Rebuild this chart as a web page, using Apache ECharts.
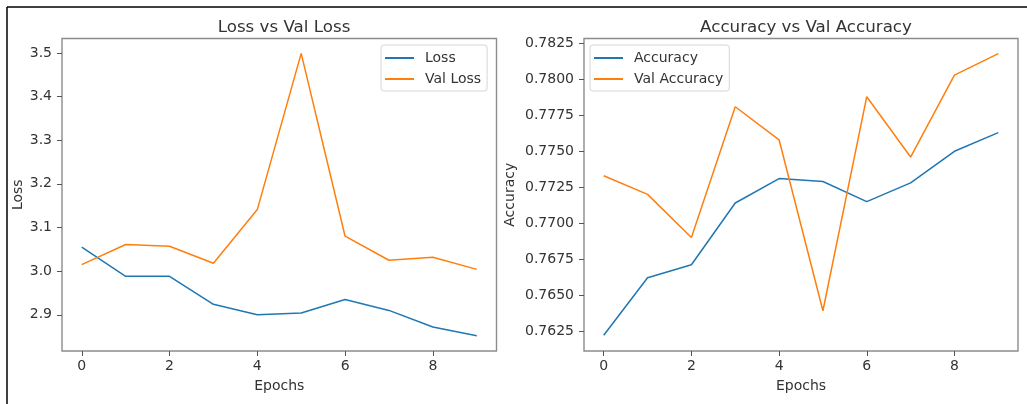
<!DOCTYPE html>
<html>
<head>
<meta charset="utf-8">
<script src="https://cdn.jsdelivr.net/npm/echarts@6/dist/echarts.min.js"></script>
<style>
  html, body { margin: 0; padding: 0; background: #fff; }
  #chart { width: 1027px; height: 404px; }
</style>
</head>
<body>
<div id="chart"></div>
<script>
const epochs = [0, 1, 2, 3, 4, 5, 6, 7, 8, 9];
const loss = [3.055, 2.988, 2.988, 2.924, 2.900, 2.904, 2.935, 2.910, 2.872, 2.852];
const valLoss = [3.015, 3.061, 3.057, 3.018, 3.141, 3.499, 3.080, 3.025, 3.032, 3.004];
const accuracy = [0.7622, 0.7662, 0.7671, 0.7714, 0.7731, 0.7729, 0.7715, 0.7728, 0.7750, 0.7763];
const valAccuracy = [0.7733, 0.7720, 0.7690, 0.7781, 0.7758, 0.7639, 0.7788, 0.7746, 0.7803, 0.7818];
const xTicks = [0, 2, 4, 6, 8];
const lossTicks = [2.9, 3.0, 3.1, 3.2, 3.3, 3.4, 3.5];
const accTicks = [0.7625, 0.7650, 0.7675, 0.7700, 0.7725, 0.7750, 0.7775, 0.7800, 0.7825];

const FONT = 'DejaVu Sans';
const TXT = '#333';
const FRAME = '#8c8c8c';
const BLUE = '#1f77b4';
const ORANGE = '#ff7f0e';

const zip = (xs, ys) => xs.map((x, i) => [x, ys[i]]);

function xAxisCfg(gridIndex) {
  return {
    type: 'value', gridIndex, min: -0.45, max: 9.45,
    name: 'Epochs', nameLocation: 'middle', nameGap: 28,
    nameTextStyle: { fontFamily: FONT, fontSize: 14, color: TXT },
    axisLine: { show: false, onZero: false },
    axisTick: { show: true, length: 5, lineStyle: { color: '#555', width: 1 }, customValues: xTicks },
    axisLabel: { fontFamily: FONT, fontSize: 14, color: TXT, margin: 8, customValues: xTicks, formatter: v => String(Math.round(v)) },
    splitLine: { show: false }
  };
}
function yAxisCfg(gridIndex, name, min, max, ticks, dec, gap) {
  return {
    type: 'value', gridIndex, min, max,
    name, nameLocation: 'middle', nameRotate: 90, nameGap: gap,
    nameTextStyle: { fontFamily: FONT, fontSize: 14, color: TXT },
    axisLine: { show: false, onZero: false },
    axisTick: { show: true, length: 5, lineStyle: { color: '#555', width: 1 }, customValues: ticks },
    axisLabel: { fontFamily: FONT, fontSize: 14, color: TXT, margin: 10, customValues: ticks, formatter: v => v.toFixed(dec) },
    splitLine: { show: false }
  };
}
function legendCfg(left, names) {
  return {
    orient: 'vertical', left, top: 45,
    data: names,
    icon: 'rect', itemWidth: 29, itemHeight: 2, itemGap: 7,
    padding: [6, 6, 5, 4],
    borderColor: '#d6d6d6', borderWidth: 1, borderRadius: 3,
    backgroundColor: 'rgba(255,255,255,0.8)',
    textStyle: { fontFamily: FONT, fontSize: 14, color: TXT, lineHeight: 14, padding: [0, 0, 0, 6] }
  };
}
function lineSeries(name, xi, yi, data, color) {
  return {
    type: 'line', name, xAxisIndex: xi, yAxisIndex: yi,
    data: zip(epochs, data), showSymbol: false, symbol: 'none',
    color, lineStyle: { color, width: 1.5 }, animation: false
  };
}

const chart = echarts.init(document.getElementById('chart'), null, { renderer: 'canvas' });
chart.setOption({
  backgroundColor: '#fff',
  animation: false,
  title: [
    { text: 'Loss vs Val Loss', left: 279, top: 13, textAlign: 'center',
      textStyle: { fontFamily: FONT, fontSize: 16.7, fontWeight: 'normal', color: TXT, lineHeight: 20 } },
    { text: 'Accuracy vs Val Accuracy', left: 801, top: 13, textAlign: 'center',
      textStyle: { fontFamily: FONT, fontSize: 16.7, fontWeight: 'normal', color: TXT, lineHeight: 20 } }
  ],
  grid: [
    { left: 62, top: 38.5, width: 434.5, height: 312.5, show: true, borderColor: FRAME, borderWidth: 1.4, backgroundColor: 'transparent' },
    { left: 584, top: 38.5, width: 434, height: 312.5, show: true, borderColor: FRAME, borderWidth: 1.4, backgroundColor: 'transparent' }
  ],
  xAxis: [xAxisCfg(0), xAxisCfg(1)],
  yAxis: [
    yAxisCfg(0, 'Loss', 2.817, 3.533, lossTicks, 1, 37),
    yAxisCfg(1, 'Accuracy', 0.7611, 0.78285, accTicks, 4, 67)
  ],
  legend: [legendCfg(381, ['Loss', 'Val Loss']), legendCfg(590, ['Accuracy', 'Val Accuracy'])],
  series: [
    lineSeries('Loss', 0, 0, loss, BLUE),
    lineSeries('Val Loss', 0, 0, valLoss, ORANGE),
    lineSeries('Accuracy', 1, 1, accuracy, BLUE),
    lineSeries('Val Accuracy', 1, 1, valAccuracy, ORANGE)
  ],
  graphic: [
    { type: 'line', shape: { x1: 7, y1: 7, x2: 1027, y2: 7 }, style: { stroke: '#000', lineWidth: 1.5 }, silent: true },
    { type: 'line', shape: { x1: 7, y1: 7, x2: 7, y2: 404 }, style: { stroke: '#000', lineWidth: 1.5 }, silent: true }
  ]
});
</script>
</body>
</html>
